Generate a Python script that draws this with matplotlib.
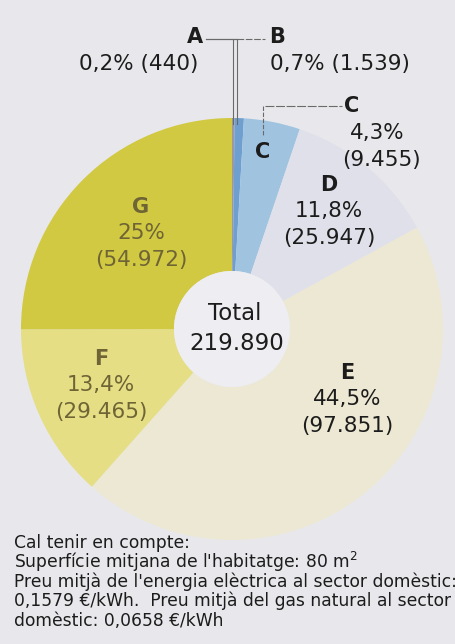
import matplotlib
matplotlib.use("Agg")
import matplotlib.pyplot as plt
from matplotlib.patches import Circle

# ---- data ----
categories = ["A", "B", "C", "D", "E", "F", "G"]
values = [440, 1539, 9455, 25947, 97851, 29465, 54972]
percents = ["0,2%", "0,7%", "4,3%", "11,8%", "44,5%", "13,4%", "25%"]
total_label = "219.890"
notes = [
    "Cal tenir en compte:",
    "Superfície mitjana de l'habitatge: 80 m$^2$",
    "Preu mitjà de l'energia elèctrica al sector domèstic:",
    "0,1579 €/kWh.  Preu mitjà del gas natural al sector",
    "domèstic: 0,0658 €/kWh",
]

colors = ["#9a9aa0", "#6e9fcf", "#a0c3e0", "#dfe0ea", "#ece8d3", "#e5de84", "#d1c942"]

plt.rcParams['font.family'] = ['DejaVu Sans']

W, H = 456, 644
bg = "#e8e8ec"
fig = plt.figure(figsize=(W / 100, H / 100), dpi=100)
fig.patch.set_facecolor(bg)
ax = fig.add_axes([0, 0, 1, 1])
ax.set_facecolor(bg)


def Y(y):
    return H - y


cx, cy = 232, 329
R, r_in = 211, 58
ax.pie(values, colors=colors, startangle=90, counterclock=False,
       center=(cx, Y(cy)), radius=R,
       wedgeprops=dict(width=R - r_in, linewidth=0))
ax.add_patch(Circle((cx, Y(cy)), r_in, facecolor="#eeeef2", edgecolor="none", zorder=3))
ax.set_xlim(0, W)
ax.set_ylim(0, H)
ax.set_aspect("auto")
ax.axis("off")


def fmt(v):
    return f"({v:,})".replace(",", ".")


dark = "#1c1c1c"
olive = "#6e6436"
lc = "#6a6a6a"

# leader lines A / B
ax.plot([233, 233], [Y(40), Y(124)], color=lc, lw=0.8, zorder=4)
ax.plot([237, 237], [Y(40), Y(124)], color=lc, lw=0.8, zorder=4)
ax.plot([206, 237], [Y(39), Y(39)], color=lc, lw=0.9, zorder=4)
ax.plot([237, 265], [Y(39), Y(39)], color=lc, lw=0.8, ls=(0, (6, 1.5)), zorder=4)
# leader C
ax.plot([265, 342], [Y(106), Y(106)], color=lc, lw=0.8, ls=(0, (8, 1.5)), zorder=4)
ax.plot([263, 263], [Y(106), Y(136)], color=lc, lw=0.8, ls=(0, (4, 1.5)), zorder=4)

fs_l = 15
fs_v = 15.5
# A
ax.text(203, Y(37), categories[0], ha="right", va="center", fontsize=fs_l, weight="bold", color=dark)
ax.text(139, Y(64), percents[0] + " " + fmt(values[0]), ha="center", va="center", fontsize=fs_v, color=dark)
# B
ax.text(269, Y(37), categories[1], ha="left", va="center", fontsize=fs_l, weight="bold", color=dark)
ax.text(270, Y(64), percents[1] + " " + fmt(values[1]), ha="left", va="center", fontsize=fs_v, color=dark)
# C
ax.text(344, Y(106), categories[2], ha="left", va="center", fontsize=fs_l, weight="bold", color=dark)
ax.text(263, Y(152), categories[2], ha="center", va="center", fontsize=fs_l, weight="bold", color=dark)
ax.text(377, Y(133), percents[2], ha="center", va="center", fontsize=fs_v, color=dark)
ax.text(381, Y(160), fmt(values[2]), ha="center", va="center", fontsize=fs_v, color=dark)

# block labels: D, E, F, G
blocks = {3: (329, 185, dark), 4: (347, 373, dark), 5: (101, 359, olive), 6: (141, 207, olive)}
for i, (x, y, c) in blocks.items():
    ax.text(x, Y(y), categories[i], ha="center", va="center", fontsize=fs_l, weight="bold", color=c)
    ax.text(x, Y(y + 26), percents[i], ha="center", va="center", fontsize=fs_v, color=c)
    ax.text(x, Y(y + 53), fmt(values[i]), ha="center", va="center", fontsize=fs_v, color=c)

# centre
ax.text(235, Y(313), "Total", ha="center", va="center", fontsize=16.5, color=dark, zorder=5)
ax.text(237, Y(343), total_label, ha="center", va="center", fontsize=16.5, color=dark, zorder=5)

# notes
for k, line in enumerate(notes):
    ax.text(14, Y(543 + k * 19.4), line, ha="left", va="center", fontsize=12.3, color=dark)

fig.savefig("out.png", dpi=100, facecolor=fig.get_facecolor())
